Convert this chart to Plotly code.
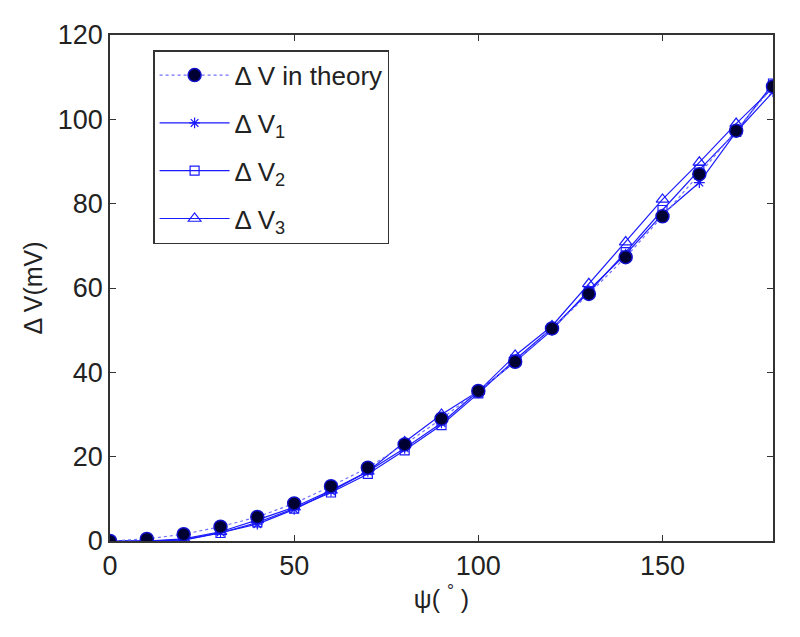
import plotly.graph_objects as go

psi = [0, 10, 20, 30, 40, 50, 60, 70, 80, 90, 100, 110, 120, 130, 140, 150, 160, 170, 180]
dv_theory = [0, 0.5, 1.6, 3.4, 5.7, 8.9, 13.0, 17.4, 22.9, 29.0, 35.6, 42.5, 50.4, 58.6, 67.3, 77.0, 87.0, 97.3, 107.8]
dv_1 = [0, 0, 0.3, 2.0, 4.0, 7.5, 11.8, 16.5, 22.0, 28.0, 35.5, 42.5, 50.0, 59.5, 68.0, 77.5, 85.0, 97.0, 106.5]
dv_2 = [0, 0, 0.2, 1.9, 4.4, 7.7, 11.5, 15.9, 21.5, 27.5, 35.0, 43.0, 50.5, 59.0, 68.5, 78.5, 88.0, 97.0, 108.5]
dv_3 = [0, 0, 0.5, 2.2, 5.0, 8.0, 12.0, 16.5, 23.5, 30.0, 35.5, 44.0, 51.0, 61.0, 70.9, 81.0, 89.8, 99.0, 107.5]

x_ticks = [0, 50, 100, 150]
y_ticks = [0, 20, 40, 60, 80, 100, 120]

blue = "#1a1aff"
FONT = "Liberation Sans, Arial, sans-serif"
FS = 27

fig = go.Figure()
fig.add_trace(go.Scatter(x=psi, y=dv_1, mode="lines+markers", name="Δ V<sub>1</sub>",
                         line=dict(color=blue, width=1.2), legendgroup="g1",
                         marker=dict(symbol="asterisk-open", size=9, color=blue, line=dict(color=blue, width=1.2)),
                         legendrank=2))
fig.add_trace(go.Scatter(x=psi, y=dv_2, mode="lines+markers", name="Δ V<sub>2</sub>",
                         line=dict(color=blue, width=1.2), legendgroup="g2",
                         marker=dict(symbol="square-open", size=9, color=blue, line=dict(color=blue, width=1.2)),
                         legendrank=3))
fig.add_trace(go.Scatter(x=psi, y=dv_3, mode="lines+markers", name="Δ V<sub>3</sub>",
                         line=dict(color=blue, width=1.2), legendgroup="g3",
                         marker=dict(symbol="triangle-up-open", size=11, color=blue, line=dict(color=blue, width=1.2)),
                         legendrank=4))
fig.add_trace(go.Scatter(x=psi, y=dv_theory, mode="lines+markers", name="Δ V in theory",
                         line=dict(color="#7070ff", width=1.2, dash="dot"), legendgroup="g0",
                         marker=dict(symbol="circle", size=13, color="#000033", line=dict(color="#1010cc", width=1.5)),
                         legendrank=1))

fig.update_layout(
    width=800, height=637,
    paper_bgcolor="white", plot_bgcolor="white",
    margin=dict(l=102, r=35, t=20, b=104),
    font=dict(family=FONT, size=FS, color="#222222"),
    showlegend=True,
    legend=dict(x=0.065, y=0.97, xanchor="left", yanchor="top",
                bordercolor="#333333", borderwidth=1.5, bgcolor="white",
                font=dict(family=FONT, size=FS - 1, color="#222222"),
                traceorder="grouped", tracegroupgap=11, itemwidth=70),
    xaxis=dict(range=[0, 180], tickvals=x_ticks, ticks="inside", ticklen=6, tickcolor="#333333",
               showline=True, linecolor="#333333", linewidth=1.5, mirror="ticks",
               showgrid=False, zeroline=False,
               title=dict(text="ψ( <sup>°</sup> )", font=dict(size=FS - 2), standoff=4)),
    yaxis=dict(range=[0, 120], tickvals=y_ticks, ticks="inside", ticklen=6, tickcolor="#333333",
               showline=True, linecolor="#333333", linewidth=1.5, mirror="ticks",
               showgrid=False, zeroline=False,
               title=dict(text="Δ V(mV)", font=dict(size=FS - 2), standoff=8)),
)

fig.write_html("out.html")
